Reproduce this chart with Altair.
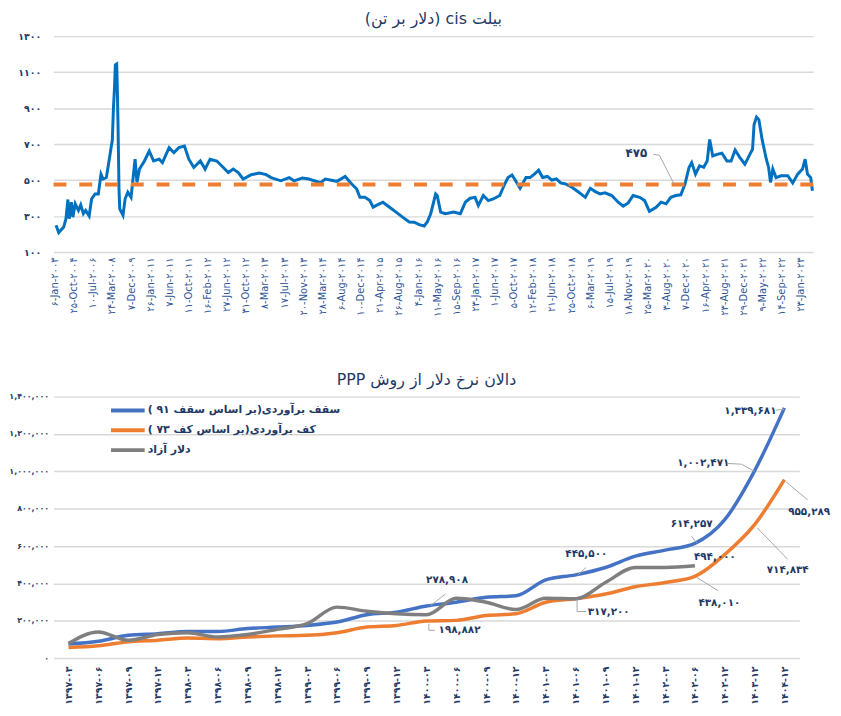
import json
import altair as alt
import pandas as pd

FA = str.maketrans("0123456789", "۰۱۲۳۴۵۶۷۸۹")


def fa(x):
    return str(x).translate(FA)


FONT = "DejaVu Sans"
NAVY = "#1f3864"
RLE, PDF = "\u202b", "\u202c"

# ---------------- top chart: CIS billet price (USD per tonne) ----------------
cis_t = [0.08, 0.22, 0.48, 0.60, 0.70, 0.77, 0.88, 0.96, 1.08, 1.25, 1.37, 1.51, 1.63, 1.81,
         1.94, 2.12, 2.29, 2.43, 2.54, 2.71, 2.89, 2.97, 3.02, 3.08, 3.13, 3.18, 3.25, 3.28,
         3.32, 3.37, 3.41, 3.58, 3.69, 3.83, 4.00, 4.21, 4.31, 4.44, 4.70, 4.95, 5.18, 5.47,
         5.64, 5.99, 6.24, 6.50, 6.79, 7.02, 7.28, 7.62, 7.87, 8.13, 8.48, 8.82, 9.08, 9.34,
         9.60, 9.86, 10.28, 10.71, 11.06, 11.32, 11.83, 12.26, 12.52, 12.95, 13.29, 13.90,
         14.15, 14.76, 15.19, 15.53, 15.79, 15.96, 16.22, 16.48, 16.65, 16.82, 17.16, 17.51,
         17.85, 18.19, 18.54, 18.80, 19.06, 19.32, 19.48, 19.66, 19.92, 20.00, 20.18, 20.43,
         20.86, 21.21, 21.47, 21.72, 21.98, 22.15, 22.41, 22.67, 22.93, 23.27, 23.53, 23.70,
         23.91, 24.10, 24.33, 24.64, 24.85, 25.08, 25.30, 25.51, 25.76, 25.99, 26.23, 26.45,
         26.71, 27.06, 27.40, 27.74, 28.00, 28.26, 28.51, 28.77, 29.12, 29.46, 29.72, 29.98,
         30.24, 30.58, 30.84, 31.09, 31.44, 31.70, 31.96, 32.21, 32.47, 32.73, 32.95, 33.16,
         33.30, 33.50, 33.71, 33.93, 34.11, 34.24, 34.40, 34.62, 34.88, 35.14, 35.36, 35.57,
         35.82, 36.08, 36.34, 36.48, 36.56, 36.69, 36.81, 36.98, 37.20, 37.32, 37.42, 37.54,
         37.71, 37.97, 38.32, 38.58, 38.84, 39.09, 39.23, 39.35, 39.52, 39.61]
cis_price = [249, 208, 239, 285, 392, 285, 377, 294, 368, 331, 362, 313, 331, 300,
             396, 423, 423, 533, 506, 514, 634, 689, 720, 900, 1000, 1140, 1145, 1020,
             800, 450, 340, 304, 396, 432, 404, 616, 487, 561, 606, 661, 606, 616,
             597, 680, 652, 680, 689, 616, 570, 606, 561, 616, 606, 570, 542, 561,
             542, 506, 530, 539, 530, 514, 496, 514, 496, 511, 506, 485,
             506, 493, 520, 478, 451, 404, 404, 386, 349, 359, 377, 349,
             322, 294, 267, 266, 252, 245, 267, 313, 423, 414, 322, 313,
             322, 313, 377, 399, 404, 359, 414, 386, 395, 414, 478, 514,
             528, 496, 454, 514, 514, 533, 555, 514, 520, 500, 506, 484,
             478, 459, 432, 404, 454, 436, 423, 429, 414, 377, 355, 373,
             414, 404, 386, 326, 349, 377, 368, 404, 414, 418, 478, 570,
             597, 533, 579, 571, 606, 726, 634, 643, 649, 606, 606, 667,
             625, 588, 643, 671, 808, 850, 836, 726, 616, 570, 487, 561,
             514, 524, 524, 484, 533, 561, 616, 533, 514, 441]
cis_tick_labels = [fa(s) for s in [
    "6-Jan-2003", "25-Oct-2004", "10-Jul-2006", "24-Mar-2008", "7-Dec-2009", "26-Jan-2011",
    "7-Jun-2011", "11-Oct-2011", "16-Feb-2012", "27-Jun-2012", "31-Oct-2012", "8-Mar-2013",
    "17-Jul-2013", "20-Nov-2013", "28-Mar-2014", "6-Aug-2014", "10-Dec-2014", "21-Apr-2015",
    "26-Aug-2015", "4-Jan-2016", "11-May-2016", "15-Sep-2016", "23-Jan-2017", "1-Jun-2017",
    "5-Oct-2017", "12-Feb-2018", "21-Jun-2018", "25-Oct-2018", "6-Mar-2019", "15-Jul-2019",
    "18-Nov-2019", "25-Mar-2020", "3-Aug-2020", "7-Dec-2020", "16-Apr-2021", "23-Aug-2021",
    "29-Dec-2021", "9-May-2022", "14-Sep-2022", "23-Jan-2023"]]
cis_y_ticks = [100, 300, 500, 700, 900, 1100, 1300]
cis_avg = 475
cis_avg_anchor = (30.41, 652)
cis_leader_t = [31.30, 31.61, 32.38]
cis_leader_v = [643, 638, 478]

# ---------------- bottom chart: PPP dollar corridor ----------------
ppp_periods = [fa(s) for s in [
    "1397-03", "1397-06", "1397-09", "1397-12", "1398-03", "1398-06", "1398-09", "1398-12",
    "1399-03", "1399-06", "1399-09", "1399-12", "1400-03", "1400-06", "1400-09", "1400-12",
    "1401-03", "1401-06", "1401-09", "1401-12", "1402-03", "1402-06", "1402-12", "1403-12",
    "1404-12"]]
ceiling_vals = [75000, 90000, 122000, 131000, 143000, 143000, 158000, 166000, 175000, 193000,
                232000, 246000, 278908, 299000, 326000, 334000, 419000, 445500, 485000, 546000,
                578000, 614257, 741000, 1002471, 1339681]
floor_vals = [57000, 66000, 87000, 96000, 108000, 104000, 113000, 119000, 122000, 136000,
              166000, 175000, 198882, 202000, 228000, 237000, 299000, 318000, 343000, 382000,
              405000, 438010, 555000, 714834, 955289]
free_vals = [78000, 140000, 96000, 126000, 136000, 113000, 126000, 154000, 184000, 273000,
             251000, 237000, 232000, 320000, 299000, 260000, 320000, 317200, 405000, 485000,
             485000, 494000]
series_names = ["سقف برآوردی(بر اساس سقف ۹۱ )", "کف برآوردی(بر اساس کف ۷۳ )", "دلار آزاد"]
series_colors = ["#4472c4", "#ed7d31", "#7f7f7f"]
ppp_y_ticks = [0, 200000, 400000, 600000, 800000, 1000000, 1200000, 1400000]

# value callouts: (number, anchor index, anchor value)
callout_vals = [1339681, 1002471, 614257, 955289, 714834, 494000, 438010, 445500, 317200,
                278908, 198882]
callout_idx = [22.86, 21.28, 20.89, 24.83, 24.11, 21.67, 21.82, 17.36, 18.11, 12.69, 13.11]
callout_anchor = [1324700, 1041900, 718300, 779800, 470600, 543200, 293900, 559100, 249300,
                  419100, 148500]
leader_id = [1, 1, 2, 2, 2, 3, 3, 4, 4, 5, 5, 7, 7, 8, 8, 9, 9, 9, 10, 10, 11, 11, 11]
leader_idx = [23.72, 24.0, 22.11, 22.56, 23.0, 20.89, 21.06, 24.05, 24.78, 23.09, 24.11,
              21.06, 21.78, 17.07, 17.35, 17.05, 17.05, 17.35, 12.64, 12.14, 12.08, 12.08, 12.28]
leader_val = [1328000, 1332000, 1041900, 1038200, 1000000, 652500, 617500, 944300, 847200,
              697100, 528900, 431800, 360700, 444000, 484900, 313000, 249300, 249300, 343200,
              281200, 184100, 148500, 148500]


def lookup_expr(vals, labels):
    return "%s[indexof(%s, datum.value)]" % (json.dumps(labels, ensure_ascii=False), json.dumps(vals))


# ---- top chart
cis_df = pd.DataFrame({"t": cis_t, "price": cis_price})
x_top = alt.X("t:Q", scale=alt.Scale(domain=[-0.05, 39.65], nice=False),
              axis=alt.Axis(values=list(range(len(cis_tick_labels))),
                            tickCount=len(cis_tick_labels),
                            labelExpr="%s[datum.value]" % json.dumps(cis_tick_labels, ensure_ascii=False),
                            labelAngle=-90, labelColor="#2f5597", labelFontSize=10,
                            labelPadding=5, grid=False, labelOverlap=False, labelFlush=False,
                            title=None))
y_top = alt.Y("price:Q", scale=alt.Scale(domain=[100, 1300], nice=False),
              axis=alt.Axis(values=cis_y_ticks, tickCount=len(cis_y_ticks),
                            labelExpr=lookup_expr(cis_y_ticks, [fa(v) for v in cis_y_ticks]),
                            labelFontWeight="bold", labelColor=NAVY, labelFontSize=9.5,
                            labelPadding=13, labelOverlap=False, title=None))

cis_line = alt.Chart(cis_df).mark_line(color="#0070c0", strokeWidth=3).encode(x=x_top, y=y_top)
cis_rule = alt.Chart(pd.DataFrame({"price": [cis_avg]})).mark_rule(
    color="#ed7d31", strokeWidth=4, strokeDash=[13, 13]).encode(y="price:Q")
cis_label = alt.Chart(pd.DataFrame({"t": [cis_avg_anchor[0]], "price": [cis_avg_anchor[1]],
                                    "txt": [fa(cis_avg)]})).mark_text(
    font=FONT, fontWeight="bold", fontSize=12, color=NAVY).encode(x="t:Q", y="price:Q", text="txt:N")
cis_leader = alt.Chart(pd.DataFrame({"t": cis_leader_t, "price": cis_leader_v})).mark_line(
    color="#a6a6a6", strokeWidth=1).encode(x="t:Q", y="price:Q")

top = alt.layer(cis_line, cis_rule, cis_leader, cis_label).properties(
    width=767, height=218,
    title=alt.TitleParams(RLE + "بیلت cis (دلار بر تن)" + PDF, offset=4))

# ---- bottom chart
rows = []
for name, vals in zip(series_names, [ceiling_vals, floor_vals, free_vals]):
    for i, v in enumerate(vals):
        rows.append({"idx": i, "value": v, "series": name})
ppp_df = pd.DataFrame(rows)

x_bot = alt.X("idx:Q", scale=alt.Scale(domain=[-0.5, len(ppp_periods) - 0.5], nice=False),
              axis=alt.Axis(values=list(range(len(ppp_periods))), tickCount=len(ppp_periods),
                            labelExpr="%s[datum.value]" % json.dumps(ppp_periods, ensure_ascii=False),
                            labelAngle=-90, labelColor=NAVY, labelFontWeight="bold",
                            labelFontSize=9.5, labelPadding=8, grid=False, labelOverlap=False,
                            labelFlush=False, title=None))
y_bot = alt.Y("value:Q", scale=alt.Scale(domain=[0, 1400000], nice=False),
              axis=alt.Axis(values=ppp_y_ticks, tickCount=len(ppp_y_ticks),
                            labelExpr=lookup_expr(ppp_y_ticks, [fa(f"{v:,}") for v in ppp_y_ticks]),
                            labelFontWeight="bold", labelColor=NAVY, labelFontSize=8,
                            labelPadding=5, labelOverlap=False, title=None))

ppp_lines = alt.Chart(ppp_df).mark_line(interpolate="monotone", strokeWidth=3.5).encode(
    x=x_bot, y=y_bot,
    color=alt.Color("series:N", scale=alt.Scale(domain=series_names, range=series_colors),
                    legend=alt.Legend(orient="none", legendX=56, legendY=372, title=None,
                                      symbolType="M-1,0H7.5", symbolSize=64,
                                      symbolStrokeWidth=4, labelOffset=27, labelFont=FONT,
                                      labelFontSize=11, labelFontWeight="bold",
                                      labelColor=NAVY, labelLimit=400, rowPadding=4)))
callout_df = pd.DataFrame({"idx": callout_idx, "value": callout_anchor,
                           "txt": [fa(f"{v:,}") for v in callout_vals]})
ppp_text = alt.Chart(callout_df).mark_text(font=FONT, fontWeight="bold", fontSize=10.5,
                                            color=NAVY).encode(x="idx:Q", y="value:Q", text="txt:N")
leader_df = pd.DataFrame({"idx": leader_idx, "value": leader_val, "id": leader_id})
ppp_leaders = alt.Chart(leader_df).mark_line(color="#a6a6a6", strokeWidth=1).encode(
    x="idx:Q", y="value:Q", detail="id:N")

bottom = alt.layer(ppp_lines, ppp_leaders, ppp_text).properties(
    width=753, height=264,
    title=alt.TitleParams(RLE + "دالان نرخ دلار از روش PPP" + PDF, offset=5))

chart = alt.vconcat(top, bottom, spacing=56).properties(
    padding={"left": 0, "top": 0, "right": 2, "bottom": 2}
).configure_view(stroke=None).configure_axis(
    domain=False, ticks=False, gridColor="#d9d9d9", gridWidth=1.5, labelFont=FONT
).configure_title(font=FONT, fontSize=16, color=NAVY, fontWeight="normal")

chart.save("out.html", embed_options={"renderer": "svg", "actions": False})
